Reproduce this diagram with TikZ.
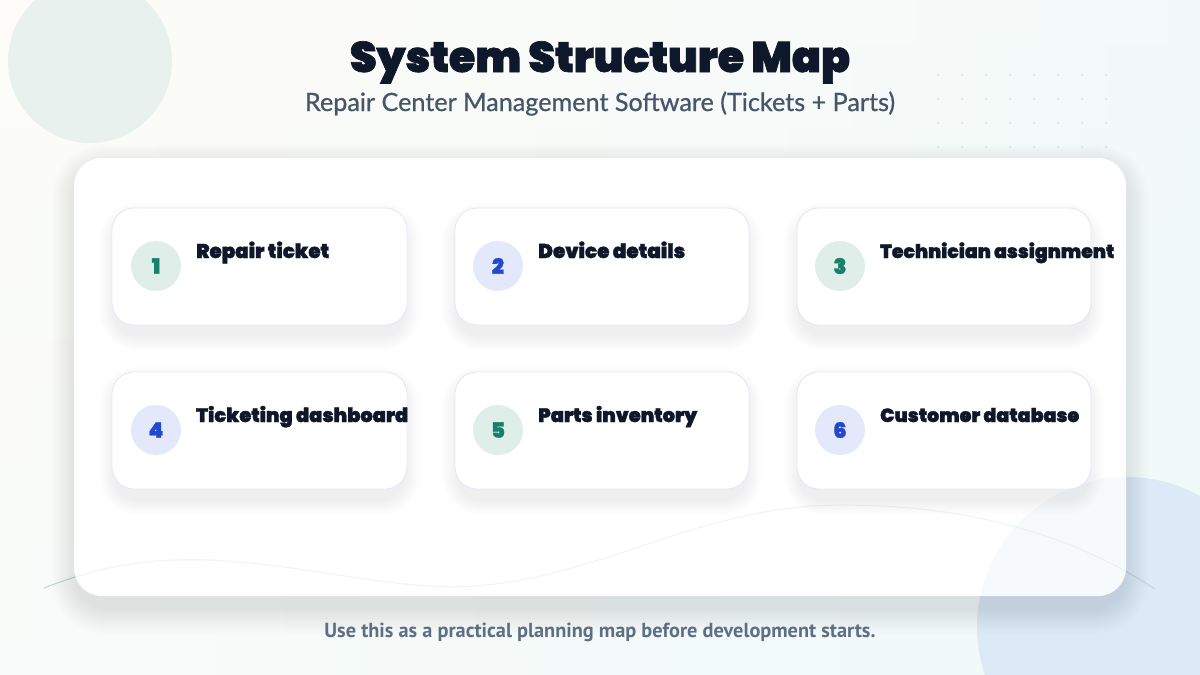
\documentclass[tikz,border=0pt]{standalone}
\usepackage{fontspec}
\setmainfont{Lato}
\newfontfamily\heavy{Poppins Black}[FakeBold=1.6]
\newfontfamily\subfont{Lato}[FakeBold=0.7]
\newfontfamily\footfont{PT Sans}
\definecolor{bgA}{HTML}{FDFCF8}
\definecolor{bgC}{HTML}{F5FBFA}
\definecolor{bgD}{HTML}{EAF7FB}
\definecolor{circA}{HTML}{E8F1EE}
\definecolor{circB}{HTML}{DCEAF7}
\definecolor{navy}{HTML}{0F172A}
\definecolor{slate}{HTML}{475569}
\definecolor{slatelt}{HTML}{5E6E84}
\definecolor{cardline}{HTML}{E1E9F6}
\definecolor{tealfill}{HTML}{E0EEEA}
\definecolor{tealtext}{HTML}{17806A}
\definecolor{bluefill}{HTML}{E3E9FA}
\definecolor{bluetext}{HTML}{2348CC}
\definecolor{waveline}{HTML}{C3D8D5}
\definecolor{dotc}{HTML}{E1E7EC}
\definecolor{shadowc}{HTML}{64748B}
\tikzset{
  panel/.style={rounded corners=28pt, fill=white, draw=none},
  card/.style={rounded corners=22pt, fill=white, draw=cardline, line width=0.8pt},
  shadowlayer/.style={fill=shadowc, draw=none},
  numteal/.style={circle, minimum size=50pt, inner sep=0pt, fill=tealfill, text=tealtext, font=\heavy\fontsize{21}{21}\selectfont},
  numblue/.style={circle, minimum size=50pt, inner sep=0pt, fill=bluefill, text=bluetext, font=\heavy\fontsize{21}{21}\selectfont},
  cardlabel/.style={anchor=base west, inner sep=0pt, text=navy, font=\heavy\fontsize{18}{18}\selectfont},
  dotstyle/.style={fill=dotc, draw=none}
}
% soft shadow: x1 y1 x2 y2 radius shift steps opacity
\newcommand{\softshadow}[8]{%
  \foreach \k in {1,...,#7}{%
    \pgfmathsetmacro\rr{#5+\k}%
    \fill[shadowlayer, opacity=#8, rounded corners=\rr pt] (#1-\k+3,#2-\k+#6) rectangle (#3+\k-3,#4+\k+#6);
  }}
\begin{document}
\begin{tikzpicture}[x=1pt,y=-1pt]
\useasboundingbox (0,0) rectangle (1200,675);
% background
\shade[left color=bgA, right color=bgD] (0,0) rectangle (1200,675);
\shade[top color=bgA, bottom color=bgC, opacity=0.5] (0,0) rectangle (1200,675);
% decorative circles
\fill[circA] (90,61) circle[radius=82];
\fill[circB] (1127,627) circle[radius=150];
% dot grid
\foreach \i in {0,...,7}{
  \foreach \j in {0,...,4}{
    \fill[dotstyle] (938+24*\i,75+24*\j) circle[radius=1.3];
  }
}
% wave
\draw[waveline, line width=1.1pt] (44,588) .. controls (100,566) and (150,558) .. (207,560)
  .. controls (300,563) and (400,592) .. (474,586)
  .. controls (600,578) and (700,505) .. (842,505)
  .. controls (980,505) and (1080,540) .. (1155,589);
% panel
\softshadow{74}{158}{1126}{596}{28}{12}{26}{0.0045}
\path[panel] (74,158) rectangle (1126,596);
\begin{scope}
  \clip[rounded corners=28pt] (74,158) rectangle (1126,596);
  \fill[circB, opacity=0.22] (1127,627) circle[radius=150];
  \draw[waveline, line width=1.1pt, opacity=0.25] (44,588) .. controls (100,566) and (150,558) .. (207,560)
    .. controls (300,563) and (400,592) .. (474,586)
    .. controls (600,578) and (700,505) .. (842,505)
    .. controls (980,505) and (1080,540) .. (1155,589);
\end{scope}
% title
\node[inner sep=0pt, anchor=base, text=navy] (title) at (600,72)
  {\resizebox{500pt}{!}{\heavy\fontsize{44}{44}\selectfont System Structure Map}};
\node[inner sep=0pt, anchor=base, text=slate] (subtitle) at (600,111)
  {\resizebox{590pt}{!}{\subfont\fontsize{22}{22}\selectfont Repair Center Management Software (Tickets + Parts)}};
% card shadows
\softshadow{112}{208}{407}{325}{22}{10}{16}{0.0035}
\softshadow{455}{208}{749}{325}{22}{10}{16}{0.0035}
\softshadow{797}{208}{1091}{325}{22}{10}{16}{0.0035}
\softshadow{112}{372}{407}{489}{22}{10}{16}{0.0035}
\softshadow{455}{372}{749}{489}{22}{10}{16}{0.0035}
\softshadow{797}{372}{1091}{489}{22}{10}{16}{0.0035}
% cards
\path[card] (112,208) rectangle (407,325);
\path[card] (455,208) rectangle (749,325);
\path[card] (797,208) rectangle (1091,325);
\path[card] (112,372) rectangle (407,489);
\path[card] (455,372) rectangle (749,489);
\path[card] (797,372) rectangle (1091,489);
% numbers
\node[numteal] (n1) at (156,266) {1};
\node[numblue] (n2) at (498,266) {2};
\node[numteal] (n3) at (840,266) {3};
\node[numblue] (n4) at (156,430) {4};
\node[numteal] (n5) at (498,430) {5};
\node[numblue] (n6) at (840,430) {6};
% labels
\node[cardlabel] (l1) at (196,258) {\resizebox{133pt}{!}{Repair ticket}};
\node[cardlabel] (l2) at (538,258) {\resizebox{147pt}{!}{Device details}};
\node[cardlabel] (l3) at (880,258) {\resizebox{234pt}{!}{Technician assignment}};
\node[cardlabel] (l4) at (196,422) {\resizebox{212pt}{!}{Ticketing dashboard}};
\node[cardlabel] (l5) at (538,422) {\resizebox{159pt}{!}{Parts inventory}};
\node[cardlabel] (l6) at (880,422) {\resizebox{199pt}{!}{Customer database}};
% footer
\node[inner sep=0pt, anchor=base, text=slatelt] (footer) at (600,637)
  {\resizebox{551pt}{!}{\footfont\bfseries\fontsize{16}{16}\selectfont Use this as a practical planning map before development starts.}};
\end{tikzpicture}
\end{document}
